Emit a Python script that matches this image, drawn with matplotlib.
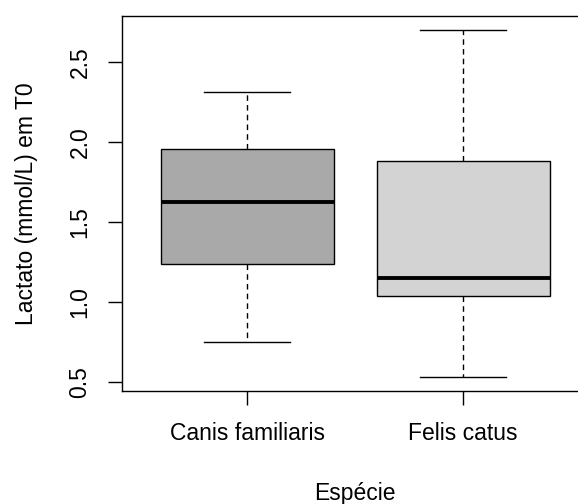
import matplotlib
matplotlib.use("Agg")
import matplotlib.pyplot as plt

plt.rcParams['font.family'] = ['Liberation Sans', 'DejaVu Sans']

# five-number summaries per species
species = ["Canis familiaris", "Felis catus"]
whislo = [0.746, 0.531]
q1 = [1.236, 1.036]
med = [1.621, 1.146]
q3 = [1.954, 1.881]
whishi = [2.312, 2.698]
fills = ["#a9a9a9", "#d3d3d3"]

stats = []
for i, name in enumerate(species):
    stats.append(dict(label=name, whislo=whislo[i], q1=q1[i], med=med[i],
                      q3=q3[i], whishi=whishi[i], fliers=[]))

fig = plt.figure(figsize=(5.78, 5.04), dpi=100)
ax = fig.add_axes([0.2111, 0.2242, 0.807, 0.744])

bp = ax.bxp(stats, positions=[1, 2], widths=0.8, patch_artist=True,
            showfliers=False,
            boxprops=dict(edgecolor="black", linewidth=1.0),
            medianprops=dict(color="black", linewidth=2.8),
            whiskerprops=dict(color="black", linewidth=1.0, linestyle=(0, (4, 3))),
            capprops=dict(color="black", linewidth=1.0),
            capwidths=0.4)
for patch, c in zip(bp["boxes"], fills):
    patch.set_facecolor(c)

ax.set_xlim(0.42, 2.58)
ax.set_ylim(0.4425, 2.786)
ax.set_yticks([0.5, 1.0, 1.5, 2.0, 2.5])
ax.set_yticklabels(["0.5", "1.0", "1.5", "2.0", "2.5"], rotation=90, va="center")
ax.set_xticks([1, 2])
ax.set_xticklabels(species)
ax.tick_params(axis="both", length=10, width=1.0, labelsize=16.5, color="black")
ax.tick_params(axis="x", pad=12)
ax.tick_params(axis="y", pad=12)
for sp in ax.spines.values():
    sp.set_linewidth(1.0)

ax.set_ylabel("Lactato (mmol/L) em T0", fontsize=16.5, labelpad=22)
ax.set_xlabel("Espécie", fontsize=16.5, labelpad=27)

fig.savefig("out.png", dpi=100)
